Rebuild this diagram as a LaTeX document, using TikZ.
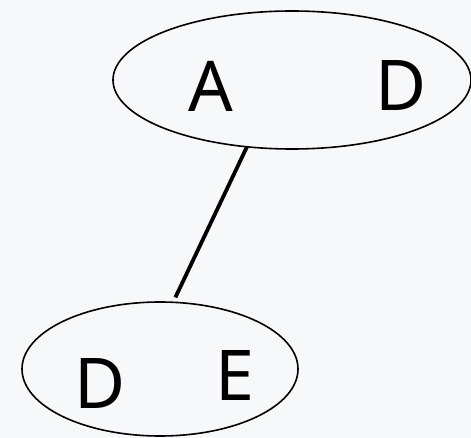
\documentclass[tikz,border=0pt]{standalone}
\usepackage{fontspec}
\setmainfont{Noto Sans}
\usetikzlibrary{shapes.geometric}
\definecolor{bg}{HTML}{F7F8FA}
\begin{document}
\begin{tikzpicture}[x=1pt,y=1pt,
  blob/.style={draw=black, line width=1.6pt, ellipse, inner sep=0pt, outer sep=0pt},
  lbl/.style={font=\fontsize{70}{72}\selectfont, inner sep=0pt, anchor=center},
  link/.style={draw=black, line width=3.8pt}]
\fill[bg] (0,0) rectangle (471,-438);
\useasboundingbox (0,0) rectangle (471,-438);
\node[blob, minimum width=358pt, minimum height=138pt] (top) at (292,-80) {};
\node[blob, minimum width=276pt, minimum height=134pt] (bot) at (160,-369) {};
\node[lbl] (a) at (211,-86) {A};
\node[lbl] (d1) at (401,-86) {D};
\node[lbl] (d2) at (100,-384) {D};
\node[lbl] (e) at (235,-376) {E};
\draw[link] (top.236) -- ([yshift=5pt]bot.77);
\end{tikzpicture}
\end{document}
